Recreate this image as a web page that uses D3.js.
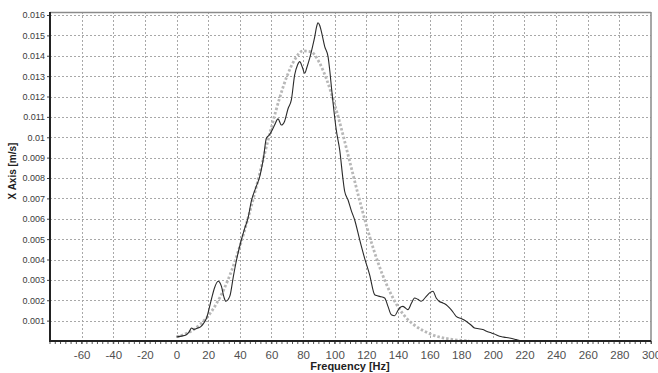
<!DOCTYPE html>
<html><head><meta charset="utf-8">
<script src="https://cdn.jsdelivr.net/npm/d3@7"></script>
<style>body{margin:0;background:#fff}svg{display:block}</style>
</head><body><svg id="c" width="658" height="373"></svg>
<script>
const xTicks = [-60,-40,-20,0,20,40,60,80,100,120,140,160,180,200,220,240,260,280,300];
const yTicks = [0.001,0.002,0.003,0.004,0.005,0.006,0.007,0.008,0.009,0.01,0.011,0.012,0.013,0.014,0.015,0.016];
const yTickLabels = ["0.001","0.002","0.003","0.004","0.005","0.006","0.007","0.008","0.009","0.01","0.011","0.012","0.013","0.014","0.015","0.016"];

const measFreq = [0,3,6,8,9.5,11,13,15,17,19,22,24,26.3,28.4,30,31.2,33.7,36,38,41,43,45.2,47.4,50,52.6,55,56.8,58.5,60,62,64.2,66.3,68.4,70.5,72.6,74.7,76.5,77.9,79.5,81,82.5,84.2,86,87.4,88.5,89.4,90.5,91.6,93.7,95.8,97,97.9,99,101,103.2,105.3,106.3,108.4,110.5,112.6,115.8,118.9,122.1,125.3,127,128.4,131.6,133.7,135.8,137.9,140,141,143.1,145,146.3,148.5,150.5,152.5,154.7,157.5,160,162.1,164.2,166,168.4,170.5,172.6,175,176.8,180,183.1,186,188.4,191,193.6,196,198.9,201,204.2,207,210.5,214.7,217];
const measVal = [0.00020,0.00024,0.00030,0.00045,0.00064,0.00057,0.00063,0.00068,0.00085,0.00113,0.00203,0.00260,0.00293,0.00268,0.00215,0.00195,0.00220,0.00320,0.00400,0.00497,0.00550,0.00603,0.00690,0.00750,0.00807,0.00900,0.00995,0.01010,0.01028,0.01060,0.01090,0.01060,0.01080,0.01140,0.01183,0.01306,0.01355,0.01371,0.01345,0.01314,0.01345,0.01388,0.01445,0.01494,0.01540,0.01562,0.01550,0.01518,0.01445,0.01396,0.01320,0.01249,0.01167,0.01036,0.00936,0.00791,0.00735,0.00693,0.00640,0.00595,0.00497,0.00407,0.00325,0.00227,0.00222,0.00219,0.00211,0.00170,0.00129,0.00124,0.00150,0.00162,0.00170,0.00160,0.00154,0.00185,0.00211,0.00205,0.00195,0.00215,0.00236,0.00244,0.00211,0.00195,0.00187,0.00178,0.00162,0.00140,0.00121,0.00110,0.00097,0.00080,0.00064,0.00060,0.00056,0.00048,0.00040,0.00034,0.00023,0.00019,0.00015,0.00007,0.00002];

const fitFreq = [0,5,10,15,20,25,30,35,40,45,50,55,60,65,70,75,80,85,90,95,100,105,110,115,120,125,130,135,140,145,150,155,160,165,170,175,180,185];
const fitVal = [0.00020,0.00033,0.00052,0.00082,0.00123,0.00180,0.00255,0.00349,0.00464,0.00597,0.00743,0.00897,0.01049,0.01188,0.01303,0.01384,0.01424,0.01420,0.01371,0.01282,0.01161,0.01019,0.00866,0.00713,0.00569,0.00440,0.00330,0.00240,0.00168,0.00116,0.00080,0.00055,0.00036,0.00022,0.00013,0.00007,0.00003,0.00001];

const svg = d3.select("#c");
const L = 50, R = 651, T = 12, B = 341;
const x = d3.scaleLinear().domain([-80,300]).range([L,R]);
const y = d3.scaleLinear().domain([0,0.016]).range([B,15]);

// grid
const g = svg.append("g");
g.selectAll("line.v").data(xTicks.filter(d=>d<300)).enter().append("line")
  .attr("x1",d=>Math.round(x(d))+0.5).attr("x2",d=>Math.round(x(d))+0.5)
  .attr("y1",T).attr("y2",B)
  .attr("stroke","#a8a8a8").attr("stroke-dasharray","2,2").attr("stroke-width",1);
g.selectAll("line.h").data(yTicks).enter().append("line")
  .attr("y1",d=>Math.round(y(d))+0.5).attr("y2",d=>Math.round(y(d))+0.5)
  .attr("x1",L).attr("x2",R)
  .attr("stroke","#a8a8a8").attr("stroke-dasharray","2,2").attr("stroke-width",1);

// border top/right
svg.append("line").attr("x1",L).attr("x2",R).attr("y1",T+0.5).attr("y2",T+0.5).attr("stroke","#8a8a8a").attr("stroke-width",1.5);
svg.append("line").attr("x1",R).attr("x2",R).attr("y1",T).attr("y2",B).attr("stroke","#8a8a8a").attr("stroke-width",1.5);

// fit curve (dotted gray)
const fitData = fitFreq.map((f,i)=>[f,fitVal[i]]);
svg.append("path").datum(fitData)
  .attr("d", d3.line().x(d=>x(d[0])).y(d=>y(d[1])).curve(d3.curveMonotoneX))
  .attr("fill","none").attr("stroke","#b8b8b8").attr("stroke-width",2.8).attr("stroke-dasharray","2.5,2");

// measured curve
const measData = measFreq.map((f,i)=>[f,measVal[i]]);
svg.append("path").datum(measData)
  .attr("d", d3.line().x(d=>x(d[0])).y(d=>y(d[1])).curve(d3.curveMonotoneX))
  .attr("fill","none").attr("stroke","#2a2a2a").attr("stroke-width",1.1);

// x axis
const xAxis = d3.axisBottom(x).tickValues(xTicks).tickSize(3).tickFormat(d=>d);
const xa = svg.append("g").attr("transform",`translate(0,${B})`).call(xAxis);
xa.select(".domain").remove();
xa.selectAll(".tick line").attr("stroke","#555");
xa.selectAll(".tick text").attr("font-family","Liberation Sans, Arial, sans-serif").attr("font-size","11.5px").attr("fill","#505050").attr("dy","0").attr("y",17.5);
const minor = d3.range(-80,300.01,20/6);
svg.append("g").selectAll("line").data(minor).enter().append("line")
  .attr("x1",d=>x(d)).attr("x2",d=>x(d)).attr("y1",B).attr("y2",B+3)
  .attr("stroke","#555").attr("stroke-width",1);
svg.append("line").attr("x1",L-1).attr("x2",R).attr("y1",B).attr("y2",B).attr("stroke","#222").attr("stroke-width",2);

// y axis
const yAxis = d3.axisLeft(y).tickValues(yTicks).tickSize(3).tickFormat((d,i)=>yTickLabels[i]);
const ya = svg.append("g").attr("transform",`translate(${L},0)`).call(yAxis);
ya.select(".domain").remove();
ya.selectAll(".tick line").attr("stroke","#444");
ya.selectAll(".tick text").attr("font-family","Liberation Sans, Arial, sans-serif").attr("font-size","9px").attr("fill","#3a3a3a").attr("x",-5);
svg.append("line").attr("x1",L).attr("x2",L).attr("y1",T).attr("y2",B).attr("stroke","#222").attr("stroke-width",2);

// titles
svg.append("text").attr("x",350).attr("y",370).attr("text-anchor","middle")
  .attr("font-family","Liberation Sans, Arial, sans-serif").attr("font-weight","bold").attr("font-size","11px").attr("fill","#222")
  .text("Frequency [Hz]");
svg.append("text").attr("transform","translate(16,171) rotate(-90)").attr("text-anchor","middle")
  .attr("font-family","Liberation Sans, Arial, sans-serif").attr("font-weight","bold").attr("font-size","10px").attr("fill","#222")
  .text("X Axis [m/s]");
</script></body></html>
